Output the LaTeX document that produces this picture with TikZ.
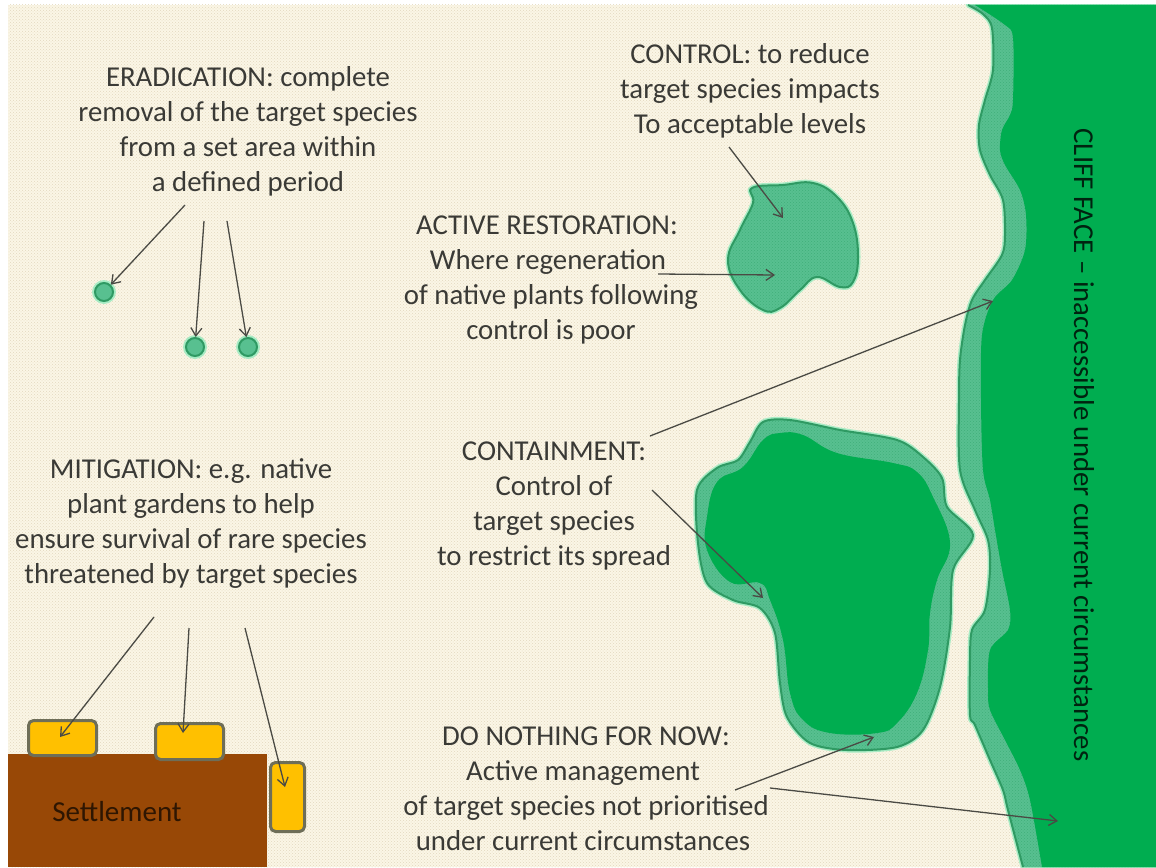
\documentclass[tikz,border=0pt]{standalone}
\usepackage{fontspec}
\setmainfont{Carlito}
\usetikzlibrary{arrows.meta,patterns}
\definecolor{cream}{HTML}{FBF6E6}
\definecolor{dotc}{HTML}{E2D8BE}
\definecolor{cliffg}{HTML}{00AD50}
\definecolor{bandg}{HTML}{58C090}
\definecolor{dotg}{HTML}{3FAE7A}
\definecolor{edgeg}{HTML}{2F9A63}
\definecolor{glowg}{HTML}{A8EBC4}
\definecolor{inkc}{HTML}{3A3A36}
\definecolor{arrowc}{HTML}{4A4A44}
\definecolor{yellowc}{HTML}{FFC000}
\definecolor{boxedge}{HTML}{6E6E58}
\definecolor{brownc}{HTML}{984806}
\tikzset{
  lbl/.style={align=center,font=\fontsize{28.8}{35}\selectfont,text=inkc,inner sep=0pt},
  conn/.style={draw=arrowc,line width=1.3pt,-{Straight Barb[length=8pt,width=11pt]}},
  gardenbox/.style={draw=boxedge,line width=3pt,fill=yellowc,rounded corners=5pt,inner sep=0pt},
  spot/.style={circle,draw=edgeg,line width=2pt,fill=bandg,minimum size=18pt,inner sep=0pt},
  spotglow/.style={circle,fill=glowg,minimum size=24pt,inner sep=0pt},
  bandfill/.style={fill=bandg},
  banddots/.style={pattern=crosshatch dots,pattern color=dotg},
  outline/.style={draw=edgeg,line width=2pt,line join=round},
  glow/.style={draw=glowg,line width=5pt,line join=round},
}
\def\cliffouter{(968,5) (983,14) (992,28) (993,70) (985,100) (979,125) (980,150) (990,175) (1003,200) (1005,235) (1002,255) (985,280) (972,300) (965,325) (960,360) (959,400) (960,470) (975,510) (988,540) (990,570) (985,610) (972,630) (970,660) (970,715) (975,725) (990,760) (1003,790) (1008,810) (1023,867)}
\def\cliffinner{(975,5) (1005,25) (1013,38) (1013,100) (1010,115) (1002,130) (1000,150) (1005,165) (1020,190) (1026,215) (1025,250) (1012,280) (993,300) (982,335) (981,400) (983,470) (990,500) (995,530) (1002,570) (1010,610) (1008,630) (990,650) (988,690) (990,710) (1005,740) (1020,770) (1030,800) (1042,867)}
\def\blobtwo{(763,422) (790,420) (840,430) (897,440) (923,457) (942,478) (947,507) (973,535) (953,570) (950,627) (940,687) (923,730) (897,747) (847,750) (810,743) (787,717) (780,683) (775,633) (760,608) (733,600) (707,583) (698,543) (697,490) (717,468) (738,460) (750,442)}
\def\blobtwoin{(780,433) (803,435) (837,453) (893,463) (917,472) (933,497) (950,543) (937,580) (930,613) (928,650) (917,693) (897,723) (877,733) (830,733) (803,720) (790,693) (783,640) (770,600) (760,583) (730,582) (707,550) (707,517) (717,482) (743,467) (763,440)}
\def\blobone{(752,188) (783,185) (813,183) (837,197) (853,223) (858,257) (853,282) (840,287) (817,277) (800,290) (780,308) (763,310) (740,290) (728,260) (740,230) (753,203)}
\begin{document}
\begin{tikzpicture}[x=1pt,y=-1pt]
\useasboundingbox (0,0) rectangle (1156,867);
\fill[white] (0,0) rectangle (1156,867);
\clip (8,5) rectangle (1156,867);
% ground
\fill[cream] (8,5) rectangle (1156,867);
\fill[pattern=crosshatch dots,pattern color=dotc] (8,5) rectangle (1156,867);
% cliff
\draw[glow] plot[smooth,tension=0.5] coordinates {\cliffouter} -- (1170,867) -- (1170,5) -- cycle;
\path[bandfill] plot[smooth,tension=0.5] coordinates {\cliffouter} -- (1170,867) -- (1170,5) -- cycle;
\path[banddots] plot[smooth,tension=0.5] coordinates {\cliffouter} -- (1170,867) -- (1170,5) -- cycle;
\draw[outline] plot[smooth,tension=0.5] coordinates {\cliffouter};
\fill[cliffg] plot[smooth,tension=0.5] coordinates {\cliffinner} -- (1170,867) -- (1170,5) -- cycle;
% invasion blobs
\draw[glow] plot[smooth cycle,tension=0.7] coordinates {\blobone};
\path[bandfill] plot[smooth cycle,tension=0.7] coordinates {\blobone};
\path[banddots] plot[smooth cycle,tension=0.7] coordinates {\blobone};
\draw[outline] plot[smooth cycle,tension=0.7] coordinates {\blobone};
\draw[glow] plot[smooth cycle,tension=0.5] coordinates {\blobtwo};
\path[bandfill] plot[smooth cycle,tension=0.5] coordinates {\blobtwo};
\path[banddots] plot[smooth cycle,tension=0.5] coordinates {\blobtwo};
\draw[outline] plot[smooth cycle,tension=0.5] coordinates {\blobtwo};
\fill[cliffg] plot[smooth cycle,tension=0.7] coordinates {\blobtwoin};
% spots
\node[spotglow] at (104,292) {};
\node[spotglow] at (195,347) {};
\node[spotglow] at (248,347) {};
\node[spot] (s1) at (104,292) {};
\node[spot] (s2) at (195,347) {};
\node[spot] (s3) at (248,347) {};
% settlement
\node[fill=brownc,minimum width=259pt,minimum height=113pt,inner sep=0pt,anchor=north west] (settle) at (8,754) {};
\node[font=\fontsize{29}{30}\selectfont,text=black!70!brownc,inner sep=0pt] (settletext) at (117,812) {Settlement};
\node[gardenbox,minimum width=68pt,minimum height=35pt,anchor=north west] (g1) at (27,719) {};
\node[gardenbox,minimum width=68pt,minimum height=36pt,anchor=north west] (g2) at (154,722) {};
\node[gardenbox,minimum width=34pt,minimum height=69pt,anchor=north west] (g3) at (269,761) {};
% labels
\node[lbl] (erad) at (248,131.5) {ERADICATION: complete\\removal of the target species\\from a set area within\\a defined period};
\node[lbl] (control) at (750,91) {CONTROL: to reduce\\target species impacts\\To acceptable levels};
\node[lbl] (active) at (551,280) {\hspace*{-8pt}ACTIVE RESTORATION:\\\hspace*{-6pt}Where regeneration\\of native plants following\\control is poor};
\node[lbl] (contain) at (554,506) {CONTAINMENT:\\Control of\\target species\\to restrict its spread};
\node[lbl] (mitig) at (191,524) {MITIGATION: e.g. native\\plant gardens to help\\ensure survival of rare species\\threatened by target species};
\node[lbl] (nothing) at (586,789) {DO NOTHING FOR NOW:\\\hspace*{-6pt}Active management\\of target species not prioritised\\\hspace*{-6pt}under current circumstances};
\node[lbl,rotate=-90,text=black!80!cliffg] (cliff) at (1084,445) {CLIFF FACE -- inaccessible under current circumstances};
% arrow anchors
\coordinate (e1) at (185,205); \coordinate (e2) at (204,221); \coordinate (e3) at (227,221);
\coordinate (c1) at (729,147); \coordinate (c2) at (783,218);
\coordinate (a1) at (658,274); \coordinate (a2) at (775,275);
\coordinate (k1) at (650,436); \coordinate (k2) at (993,301);
\coordinate (k3) at (652,490); \coordinate (k4) at (763,598);
\coordinate (d1) at (735,790); \coordinate (d2) at (874,737);
\coordinate (d3) at (770,788); \coordinate (d4) at (1058,821);
\coordinate (m1) at (154,617); \coordinate (m2) at (60,737);
\coordinate (m3) at (189,628); \coordinate (m4) at (183,733);
\coordinate (m5) at (245,628); \coordinate (m6) at (285,787);
% arrows
\draw[conn] (e1) -- (s1);
\draw[conn] (e2) -- (s2);
\draw[conn] (e3) -- (s3);
\draw[conn] (c1) -- (c2);
\draw[conn] (a1) -- (a2);
\draw[conn] (k1) -- (k2);
\draw[conn] (k3) -- (k4);
\draw[conn] (d1) -- (d2);
\draw[conn] (d3) -- (d4);
\draw[conn] (m1) -- (m2);
\draw[conn] (m3) -- (m4);
\draw[conn] (m5) -- (m6);
\end{tikzpicture}
\end{document}
